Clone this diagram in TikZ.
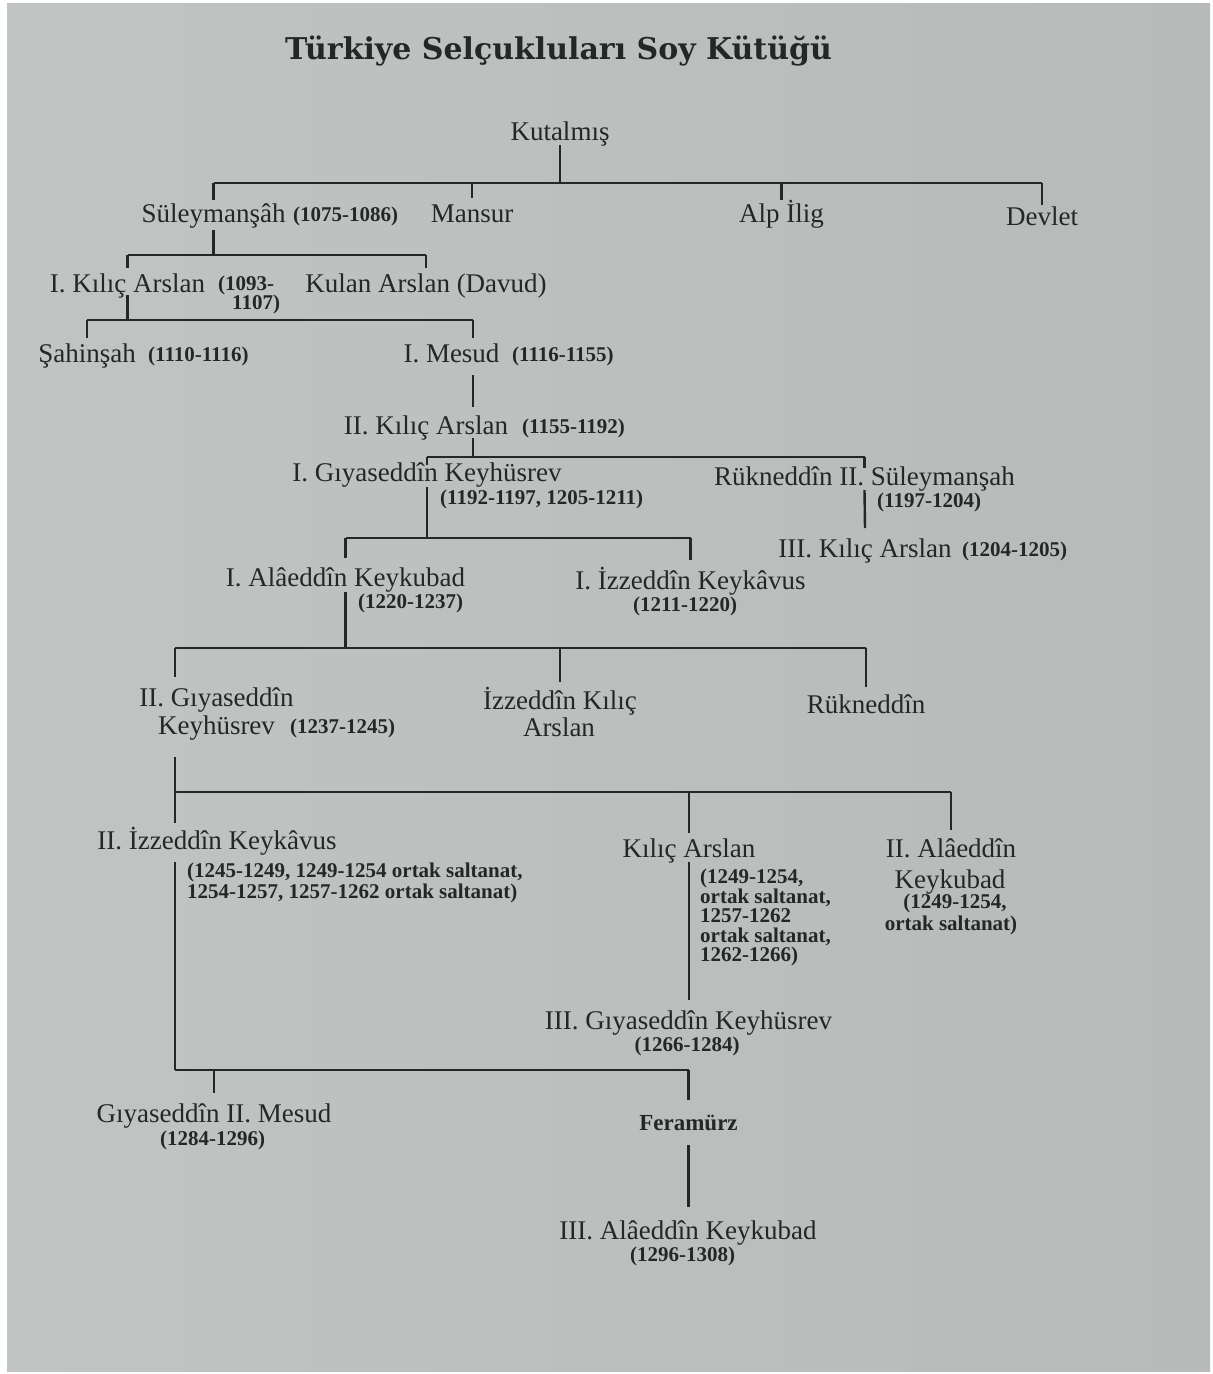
\documentclass[tikz,border=0pt]{standalone}
\usepackage{fontspec}
\setmainfont{Liberation Serif}
\newfontfamily\titlefont{DejaVu Serif}
\usetikzlibrary{calc}
\definecolor{paperL}{RGB}{192,197,196}
\definecolor{paperR}{RGB}{182,186,185}
\definecolor{ink}{RGB}{36,39,39}
\tikzset{
  nm/.style={anchor=base, inner sep=0pt, text=ink, font=\fontsize{27}{30}\selectfont},
  dt/.style={anchor=base west, inner sep=0pt, text=ink, font=\fontsize{21}{23}\selectfont\bfseries},
  ttl/.style={anchor=base, inner sep=0pt, text=ink, font=\fontsize{30}{33}\selectfont\titlefont\bfseries},
  tree/.style={draw=ink, line width=2.4pt},
}
\begin{document}
\begin{tikzpicture}[x=1pt,y=-1pt]
\fill[white] (0,0) rectangle (1213,1374);
\useasboundingbox (0,0) rectangle (1213,1374);
\shade[left color=paperL, right color=paperR] (7,3) rectangle (1210,1371);

% title
\node[ttl] (title) at (558.5,59) {Türkiye Selçukluları Soy Kütüğü};

% persons
\node[nm] (kut) at (560,140) {Kutalmış};
\node[nm] (sul) at (213.5,222) {Süleymanşâh};
\node[dt] (sulD) at (293,221) {(1075-1086)};
\node[nm] (man) at (472,222) {Mansur};
\node[nm] (alp) at (781.5,222) {Alp İlig};
\node[nm] (dev) at (1042,225) {Devlet};
\node[nm] (kil1) at (127.5,292) {I. Kılıç Arslan};
\node[dt] (kil1Da) at (218,290) {(1093-};
\node[dt] (kil1Db) at (232,309) {1107)};
\node[nm] (kul) at (426,292) {Kulan Arslan (Davud)};
\node[nm] (sah) at (87,362) {Şahinşah};
\node[dt] (sahD) at (148,361) {(1110-1116)};
\node[nm] (mes1) at (451.5,362) {I. Mesud};
\node[dt] (mes1D) at (512,361) {(1116-1155)};
\node[nm] (kil2) at (426,434) {II. Kılıç Arslan};
\node[dt] (kil2D) at (522,433) {(1155-1192)};
\node[nm] (gk1) at (427,481) {I. Gıyaseddîn Keyhüsrev};
\node[dt] (gk1D) at (440,504) {(1192-1197, 1205-1211)};
\node[nm] (ruk2) at (864.5,485) {Rükneddîn II. Süleymanşah};
\node[dt] (ruk2D) at (877,507) {(1197-1204)};
\node[nm] (kil3) at (865,557) {III. Kılıç Arslan};
\node[dt] (kil3D) at (962,556) {(1204-1205)};
\node[nm] (ala1) at (345.5,586) {I. Alâeddîn Keykubad};
\node[dt] (ala1D) at (358,608) {(1220-1237)};
\node[nm] (izz1) at (690.5,589) {I. İzzeddîn Keykâvus};
\node[dt] (izz1D) at (633,611) {(1211-1220)};
\node[nm] (gk2a) at (216.5,706) {II. Gıyaseddîn};
\node[nm] (gk2b) at (216.5,734) {Keyhüsrev};
\node[dt] (gk2D) at (290,733) {(1237-1245)};
\node[nm] (izzka) at (560,709) {İzzeddîn Kılıç};
\node[nm] (izzkb) at (559,736) {Arslan};
\node[nm] (rukn) at (866,713) {Rükneddîn};
\node[nm] (izz2) at (217,849) {II. İzzeddîn Keykâvus};
\node[dt] (izz2Da) at (187,877) {(1245-1249, 1249-1254 ortak saltanat,};
\node[dt] (izz2Db) at (187,898) {1254-1257, 1257-1262 ortak saltanat)};
\node[nm] (kilA) at (689,857) {Kılıç Arslan};
\node[dt] (kilD1) at (700,883) {(1249-1254,};
\node[dt] (kilD2) at (700,903) {ortak saltanat,};
\node[dt] (kilD3) at (700,922) {1257-1262};
\node[dt] (kilD4) at (700,942) {ortak saltanat,};
\node[dt] (kilD5) at (700,961) {1262-1266)};
\node[nm] (ala2a) at (951,857) {II. Alâeddîn};
\node[nm] (ala2b) at (950,888) {Keykubad};
\node[dt,anchor=base] (ala2D1) at (955,908) {(1249-1254,};
\node[dt,anchor=base] (ala2D2) at (951,930) {ortak saltanat)};
\node[nm] (gk3) at (688.5,1029) {III. Gıyaseddîn Keyhüsrev};
\node[dt,anchor=base] (gk3D) at (687,1051) {(1266-1284)};
\node[nm] (mes2) at (214,1122) {Gıyaseddîn II. Mesud};
\node[dt] (mes2D) at (160,1145) {(1284-1296)};
\node[dt,anchor=base,font=\fontsize{23}{25}\selectfont\bfseries] (fer) at (688.5,1130) {Feramürz};
\node[nm] (ala3) at (688,1239) {III. Alâeddîn Keykubad};
\node[dt] (ala3D) at (630,1261) {(1296-1308)};

% bar levels and spines
\coordinate (b1) at (0,183);
\coordinate (b2) at (0,255);
\coordinate (b3) at (0,320);
\coordinate (b4) at (0,457);
\coordinate (b5) at (0,538);
\coordinate (b6) at (0,648);
\coordinate (b7) at (0,792);
\coordinate (b8) at (0,1070);
\coordinate (xA) at (473,0);
\coordinate (xB) at (175,0);

% Kutalmis
\draw[tree] ([yshift=-5pt]kut.base) -- (kut.base |- b1);
\draw[tree] (sul.base |- b1) -- (dev.base |- b1);
\draw[tree] (sul.base |- b1) -- ([yshift=22pt]sul.base);
\draw[tree] (man.base |- b1) -- ([yshift=24pt]man.base);
\draw[tree] (alp.base |- b1) -- ([yshift=22pt]alp.base);
\draw[tree] (dev.base |- b1) -- ([yshift=20pt]dev.base);
% Suleymansah
\draw[tree] ([yshift=-8pt]sul.base) -- (sul.base |- b2);
\draw[tree] (kil1.base |- b2) -- (kul.base |- b2);
\draw[tree] (kil1.base |- b2) -- ([yshift=24pt]kil1.base);
\draw[tree] (kul.base |- b2) -- ([yshift=24pt]kul.base);
% I. Kilic Arslan
\draw[tree] ([yshift=-3pt]kil1.base) -- (kil1.base |- b3);
\draw[tree] (sah.base |- b3) -- (xA |- b3);
\draw[tree] (sah.base |- b3) -- ([yshift=24pt]sah.base);
\draw[tree] (xA |- b3) -- ($(xA |- mes1.base)+(0,-24)$);
% I. Mesud
\draw[tree] ($(xA |- mes1.base)+(0,13)$) -- ($(xA |- kil2.base)+(0,-27)$);
% II. Kilic Arslan
\draw[tree] ($(xA |- kil2.base)+(0,4)$) -- (xA |- b4);
\draw[tree] (gk1.base |- b4) -- (ruk2.base |- b4);
\draw[tree] (gk1.base |- b4) -- ([yshift=16pt]gk1.base);
\draw[tree] (ruk2.base |- b4) -- ([yshift=17pt]ruk2.base);
% I. Giyaseddin
\draw[tree] ([yshift=-6pt]gk1.base) -- (gk1.base |- b5);
\draw[tree] (ala1.base |- b5) -- (izz1.base |- b5);
\draw[tree] (ala1.base |- b5) -- ([yshift=28pt]ala1.base);
\draw[tree] (izz1.base |- b5) -- ([yshift=29pt]izz1.base);
% Rukneddin II.
\draw[tree] ([yshift=-5pt]ruk2.base) -- ([yshift=29pt]kil3.base);
% I. Alaeddin
\draw[tree] ([yshift=-6pt]ala1.base) -- (ala1.base |- b6);
\draw[tree] (xB |- b6) -- (rukn.base |- b6);
\draw[tree] (xB |- b6) -- ($(xB |- gk2a.base)+(0,-29)$);
\draw[tree] (izzka.base |- b6) -- ([yshift=27pt]izzka.base);
\draw[tree] (rukn.base |- b6) -- ([yshift=26pt]rukn.base);
% II. Giyaseddin
\draw[tree] ($(xB |- gk2b.base)+(0,23)$) -- (xB |- b7);
\draw[tree] (xB |- b7) -- (ala2a.base |- b7);
\draw[tree] (xB |- b7) -- ($(xB |- izz2.base)+(0,-26)$);
\draw[tree] (kilA.base |- b7) -- ([yshift=24pt]kilA.base);
\draw[tree] (ala2a.base |- b7) -- ([yshift=27pt]ala2a.base);
% II. Izzeddin
\draw[tree] ($(xB |- izz2.base)+(0,13)$) -- (xB |- b8);
\draw[tree] (xB |- b8) -- (fer.base |- b8);
\draw[tree] (mes2.base |- b8) -- ([yshift=29pt]mes2.base);
\draw[tree] (fer.base |- b8) -- ([yshift=30pt]fer.base);
% Kilic Arslan
\draw[tree] ([yshift=-5pt]kilA.base) -- ($(kilA.base |- gk3.base)+(0,-29)$);
% Feramurz
\draw[tree] ([yshift=-15pt]fer.base) -- ($(fer.base |- ala3.base)+(0,-32)$);
\end{tikzpicture}
\end{document}
